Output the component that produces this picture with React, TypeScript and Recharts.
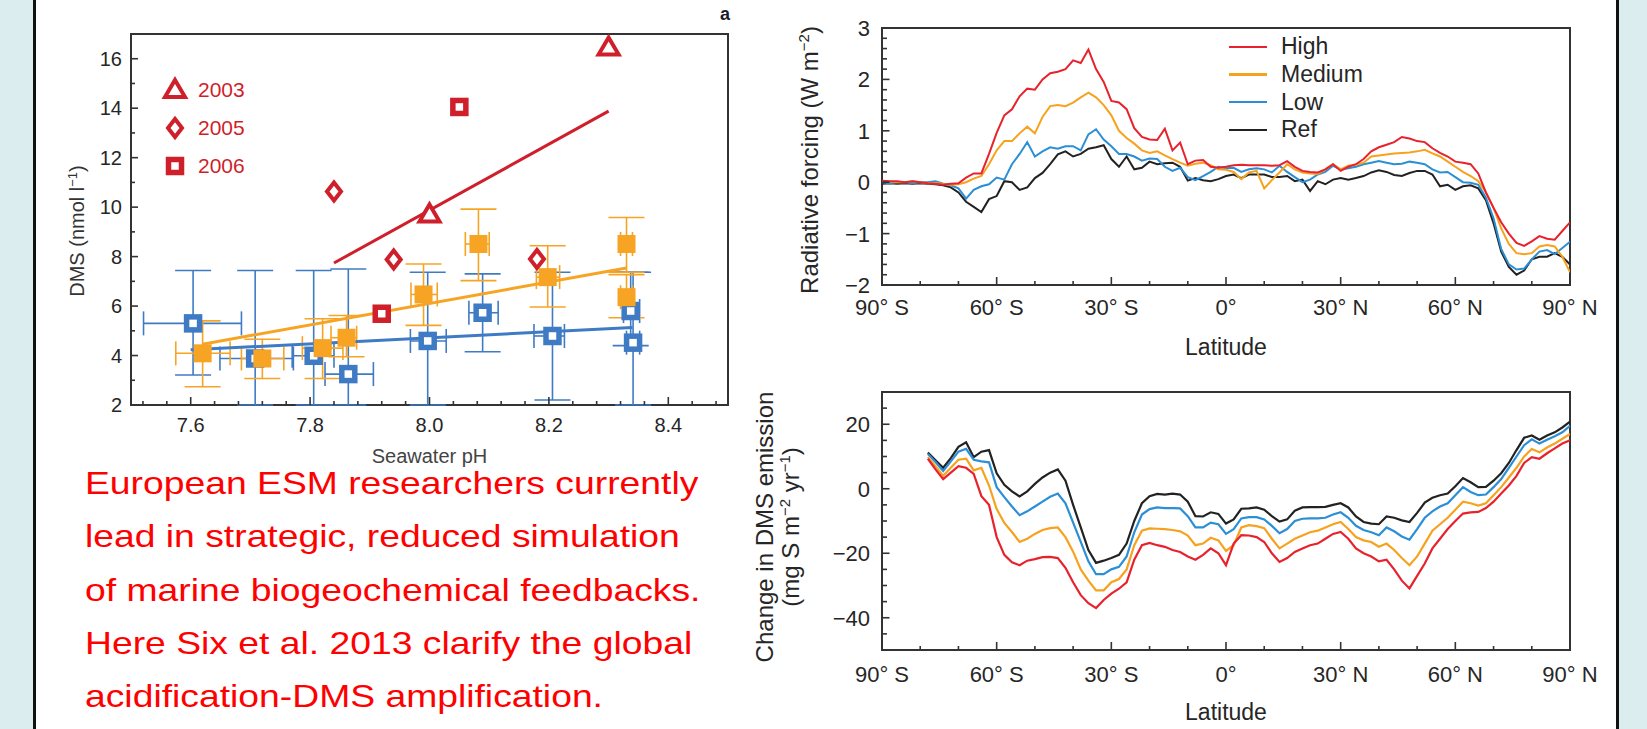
import {
  ErrorBar,
  Legend,
  Line,
  LineChart,
  ReferenceArea,
  Scatter,
  ScatterChart,
  XAxis,
  YAxis,
} from "recharts";

const FONT = '"Liberation Sans", Arial, Helvetica, sans-serif';
const TEXT = "#262626";
const AXIS = "#333333";
const RED = "#cf1f2b";
const ORANGE = "#f7a424";
const BLUE = "#3f7bc4";
const STRIP = "#dcedf0";

// ---- panel a: DMS vs seawater pH ----
const PH_TICKS = [
  7.52, 7.56, 7.6, 7.64, 7.68, 7.72, 7.76, 7.8, 7.84, 7.88, 7.92, 7.96, 8.0, 8.04, 8.08, 8.12,
  8.16, 8.2, 8.24, 8.28, 8.32, 8.36, 8.4, 8.44, 8.48,
];
const PH_LABEL_AT = [7.6, 7.8, 8.0, 8.2, 8.4];
const PH_LABELS = ["7.6", "7.8", "8.0", "8.2", "8.4"];
const DMS_TICKS = [2, 3, 4, 5, 6, 7, 8, 9, 10, 11, 12, 13, 14, 15, 16];
const DMS_LABEL_AT = [2, 4, 6, 8, 10, 12, 14, 16];
const DMS_LABELS = ["2", "4", "6", "8", "10", "12", "14", "16"];

const BLUE_PH = [7.604, 7.708, 7.806, 7.864, 7.997, 8.089, 8.206, 8.337, 8.341];
const BLUE_DMS = [5.3, 3.88, 3.99, 3.25, 4.59, 5.73, 4.79, 5.8, 4.52];
const BLUE_DMS_LO = [3.21, 2.0, 2.0, 2.0, 2.0, 4.15, 2.2, 4.4, 2.0];
const BLUE_DMS_HI = [7.44, 7.44, 7.44, 7.5, 7.37, 7.3, 7.37, 7.37, 7.37];
const BLUE_PH_LO = [7.521, 7.649, 7.77, 7.825, 7.968, 8.066, 8.175, 8.325, 8.33];
const BLUE_PH_HI = [7.685, 7.772, 7.84, 7.906, 8.028, 8.115, 8.226, 8.352, 8.352];

const ORANGE_PH = [7.62, 7.72, 7.821, 7.861, 7.99, 8.082, 8.198, 8.33, 8.33];
const ORANGE_DMS = [4.09, 3.88, 4.3, 4.72, 6.47, 8.51, 7.17, 8.51, 6.36];
const ORANGE_DMS_LO = [2.74, 3.07, 3.07, 3.95, 5.22, 7.03, 5.96, 7.37, 5.53];
const ORANGE_DMS_HI = [5.4, 4.66, 5.49, 5.62, 7.7, 9.92, 8.44, 9.58, 7.27];
const ORANGE_PH_LO = [7.575, 7.685, 7.787, 7.835, 7.969, 8.06, 8.179, 8.32, 8.32];
const ORANGE_PH_HI = [7.666, 7.756, 7.855, 7.878, 8.013, 8.1, 8.218, 8.34, 8.34];

const Y2003_PH = [8.3, 8.0];
const Y2003_DMS = [16.45, 9.7];
const Y2005_PH = [7.84, 7.94, 8.18];
const Y2005_DMS = [10.63, 7.88, 7.9];
const Y2006_PH = [8.05, 7.92];
const Y2006_DMS = [14.05, 5.69];

const RED_FIT_PH = [7.84, 8.3];
const RED_FIT_DMS = [7.74, 13.88];
const ORANGE_FIT_PH = [7.62, 8.33];
const ORANGE_FIT_DMS = [4.46, 7.54];
const BLUE_FIT_PH = [7.6, 8.34];
const BLUE_FIT_DMS = [4.23, 5.13];

const YEAR_NAMES = ["2003", "2005", "2006"];

// ---- latitude panels ----
const LAT_TICKS = [-90, -80, -70, -60, -50, -40, -30, -20, -10, 0, 10, 20, 30, 40, 50, 60, 70, 80, 90];
const LAT_LABEL_AT = [-90, -60, -30, 0, 30, 60, 90];
const LAT_LABELS = ["90° S", "60° S", "30° S", "0°", "30° N", "60° N", "90° N"];

const RF_TICKS = [
  -2, -1.8, -1.6, -1.4, -1.2, -1, -0.8, -0.6, -0.4, -0.2, 0, 0.2, 0.4, 0.6, 0.8, 1, 1.2, 1.4, 1.6,
  1.8, 2, 2.2, 2.4, 2.6, 2.8, 3,
];
const RF_LABEL_AT = [-2, -1, 0, 1, 2, 3];
const RF_LABELS = ["\u22122", "\u22121", "0", "1", "2", "3"];

const EM_TICKS = [-50, -45, -40, -35, -30, -25, -20, -15, -10, -5, 0, 5, 10, 15, 20, 25, 30];
const EM_LABEL_AT = [-40, -20, 0, 20];
const EM_LABELS = ["\u221240", "\u221220", "0", "20"];

const SCENARIOS = ["High", "Medium", "Low", "Ref"];
const SCENARIO_COLORS = ["#e8222c", "#f7a21e", "#2b8fd6", "#222222"];

const LAT_RF = [
  -90, -88, -86, -84, -82, -80, -78, -76, -74, -72, -70, -68, -66, -64, -62, -60, -58, -56, -54, -52,
  -50, -48, -46, -44, -42, -40, -38, -36, -34, -32, -30, -28, -26, -24, -22, -20, -18, -16, -14, -12,
  -10, -8, -6, -4, -2, 0, 2, 4, 6, 8, 10, 12, 14, 16, 18, 20, 22, 24, 26, 28, 30, 32, 34, 36, 38, 40,
  42, 44, 46, 48, 50, 52, 54, 56, 58, 60, 62, 64, 66, 68, 70, 72, 74, 76, 78, 80, 82, 84, 86, 88, 90,
];
const RF_HIGH = [
  0.03, 0.02, 0.02, 0.0, 0.02, 0.0, -0.02, -0.03, -0.05, -0.03,
  -0.02, 0.09, 0.17, 0.17, 0.55, 0.96, 1.3, 1.42, 1.67, 1.82,
  1.8, 2.0, 2.12, 2.15, 2.2, 2.37, 2.32, 2.58, 2.2, 1.95,
  1.58, 1.55, 1.42, 1.05, 0.88, 0.83, 0.82, 1.04, 0.62, 0.77,
  0.35, 0.42, 0.43, 0.3, 0.28, 0.3, 0.33, 0.34, 0.33, 0.33,
  0.33, 0.32, 0.33, 0.41, 0.3, 0.22, 0.2, 0.19, 0.25, 0.35,
  0.22, 0.3, 0.35, 0.45, 0.6, 0.68, 0.73, 0.78, 0.88, 0.85,
  0.8, 0.78, 0.66, 0.57, 0.5, 0.4, 0.38, 0.35, 0.17, -0.2,
  -0.5, -0.78, -1.0, -1.18, -1.24, -1.15, -1.05, -1.1, -1.12, -0.95,
  -0.78,
];
const RF_MED = [
  0.02, 0.01, 0.0, 0.0, 0.02, 0.0, -0.02, -0.02, -0.03, -0.05,
  -0.04, 0.0, 0.07, 0.12, 0.35, 0.62, 0.8, 0.8, 0.95, 1.08,
  0.95, 1.27, 1.48, 1.5, 1.48, 1.55, 1.65, 1.74, 1.65, 1.5,
  1.3, 1.0, 0.86, 0.75, 0.62, 0.57, 0.6, 0.52, 0.45, 0.38,
  0.32, 0.36, 0.38, 0.33, 0.25, 0.24, 0.2, 0.06, 0.19, 0.22,
  -0.12, 0.04, 0.19, 0.35, 0.25, 0.19, 0.17, 0.16, 0.25, 0.35,
  0.25, 0.32, 0.34, 0.38, 0.5, 0.52, 0.54, 0.56, 0.57, 0.58,
  0.6, 0.63, 0.56, 0.5, 0.4, 0.3, 0.2, 0.12, 0.02, -0.2,
  -0.5, -0.9, -1.2, -1.38, -1.4, -1.38, -1.25, -1.22, -1.25, -1.45,
  -1.75,
];
const RF_LOW = [
  0.0, -0.02, 0.0, 0.0, -0.02, 0.0, 0.0, 0.02, -0.03, -0.06,
  -0.12, -0.32, -0.15, -0.08, -0.04, 0.09, 0.05, 0.35, 0.55, 0.78,
  0.5, 0.6, 0.68, 0.65, 0.7, 0.7, 0.62, 0.93, 1.03, 0.83,
  0.7, 0.55, 0.55, 0.5, 0.42, 0.46, 0.45, 0.3, 0.22, 0.28,
  0.1, 0.04, 0.12, 0.2, 0.3, 0.27, 0.28, 0.2, 0.25, 0.27,
  0.25, 0.19, 0.32, 0.2, 0.1, 0.0, 0.05, 0.15, 0.2, 0.32,
  0.25, 0.27, 0.3, 0.35, 0.38, 0.41, 0.38, 0.35, 0.36, 0.4,
  0.38, 0.35, 0.25, 0.19, 0.2, 0.1, 0.0, -0.01, -0.05, -0.3,
  -0.7, -1.3, -1.6, -1.7, -1.68, -1.5, -1.35, -1.32, -1.4, -1.28,
  -1.16,
];
const RF_REF = [
  -0.03, -0.02, -0.03, -0.02, -0.03, -0.02, -0.03, -0.04, -0.06, -0.1,
  -0.2, -0.38, -0.48, -0.58, -0.33, -0.27, 0.02, 0.0, -0.15, -0.1,
  0.08, 0.18, 0.35, 0.54, 0.6, 0.5, 0.55, 0.65, 0.68, 0.72,
  0.45, 0.3, 0.5, 0.25, 0.28, 0.4, 0.35, 0.37, 0.38, 0.3,
  0.03, 0.08, 0.04, 0.02, 0.06, 0.12, 0.15, 0.08, 0.15, 0.15,
  0.15, 0.1, 0.1, 0.12, 0.02, 0.05, -0.17, 0.02, -0.04, 0.05,
  0.08, 0.05, 0.08, 0.12, 0.19, 0.23, 0.2, 0.14, 0.12, 0.18,
  0.22, 0.22, 0.15, -0.08, -0.05, -0.15, -0.08, -0.06, -0.12, -0.35,
  -0.8, -1.35, -1.65, -1.8, -1.72, -1.5, -1.45, -1.45, -1.38, -1.45,
  -1.6,
];

const LAT_EM = [
  -78, -76, -74, -72, -70, -68, -66, -64, -62, -60, -58, -56, -54, -52, -50, -48, -46, -44, -42, -40,
  -38, -36, -34, -32, -30, -28, -26, -24, -22, -20, -18, -16, -14, -12, -10, -8, -6, -4, -2, 0,
  2, 4, 6, 8, 10, 12, 14, 16, 18, 20, 22, 24, 26, 28, 30, 32, 34, 36, 38, 40,
  42, 44, 46, 48, 50, 52, 54, 56, 58, 60, 62, 64, 66, 68, 70, 72, 74, 76, 78, 80, 82, 84, 86, 88, 90,
];
const EM_HIGH = [
  9.3, 6.0, 3.0, 5.0, 7.0, 6.5, 4.6, -2.3, -5.0, -15.0,
  -20.5, -22.8, -23.7, -22.3, -21.8, -21.2, -21.1, -21.5, -24.5, -29.0,
  -33.0, -35.5, -37.0, -34.5, -32.5, -31.0, -29.0, -22.0, -17.5, -16.8,
  -17.5, -18.0, -19.0, -19.6, -21.0, -22.0, -20.5, -18.5, -20.0, -23.7,
  -17.0, -14.4, -14.5, -15.0, -16.5, -20.0, -22.7, -21.5, -19.6, -18.5,
  -17.5, -17.0, -15.5, -14.0, -13.4, -15.5, -18.5, -20.0, -21.0, -22.5,
  -22.0, -25.0, -28.5, -30.9, -27.0, -23.2, -18.5, -15.5, -12.5, -10.0,
  -7.7, -7.3, -7.2, -6.0, -4.0, -1.5, 1.0, 4.0, 8.0, 9.8,
  9.3, 11.0, 12.5, 14.0, 15.0,
];
const EM_MED = [
  9.8, 7.0, 4.0, 6.5, 9.0, 9.3, 5.7, 6.5, 1.0, -6.3,
  -10.6, -13.4, -16.5, -15.5, -14.0, -12.8, -12.2, -12.0, -15.0, -19.5,
  -25.0, -28.5, -31.5, -31.5, -29.0, -28.0, -25.0, -17.5, -13.0, -12.3,
  -12.4, -12.5, -12.8, -13.2, -14.5, -17.5, -17.0, -15.2, -16.0, -19.3,
  -17.5, -12.0, -11.3, -11.6, -12.2, -15.5, -18.5, -17.0, -15.5, -14.5,
  -13.5, -13.0, -12.0, -11.0, -10.3, -12.5, -15.0, -16.0, -16.5, -18.0,
  -17.0, -19.0, -21.5, -23.7, -21.0, -17.0, -13.0, -11.0, -9.0, -6.5,
  -4.0, -4.5, -5.2, -4.5, -2.0, 0.5, 3.5, 6.5, 10.0, 12.3,
  11.3, 12.8, 14.0, 15.5, 17.0,
];
const EM_LOW = [
  10.8, 8.3, 5.5, 8.5, 11.5, 12.4, 9.0, 8.5, 8.2, 0.5,
  -2.6, -5.5, -8.2, -7.0, -5.5, -4.0, -2.5, -1.5, -4.5, -10.5,
  -16.5, -22.5, -26.5, -26.5, -25.0, -24.2, -21.0, -13.5, -8.0, -6.3,
  -5.8, -6.0, -6.0, -6.1, -8.5, -12.0, -12.0, -10.5, -11.0, -14.0,
  -12.5, -9.2, -8.8, -8.8, -9.5, -11.5, -13.8, -12.5, -10.0, -9.3,
  -9.2, -9.2, -9.0, -8.0, -7.3, -9.0, -11.5, -12.8, -13.5, -14.4,
  -12.0, -13.2, -14.8, -15.8, -12.5, -9.0, -7.0, -5.5, -4.5, -2.0,
  0.5, -1.0, -2.0, -1.8, 0.5, 3.0, 6.5, 10.0, 13.5, 15.3,
  14.0, 15.2, 16.3, 17.5, 19.5,
];
const EM_REF = [
  11.2, 8.8, 6.5, 9.5, 13.0, 14.4, 9.8, 11.5, 12.0, 4.8,
  1.2, -0.8, -2.4, -0.8, 1.5, 3.5, 5.0, 6.0, 2.5, -5.0,
  -12.0, -19.0, -23.0, -22.3, -21.5, -20.5, -17.0, -10.0, -4.5, -2.3,
  -1.6, -1.8, -1.5, -1.8, -4.0, -8.5, -8.6, -7.3, -7.8, -10.8,
  -9.5, -6.2, -6.1, -5.8, -6.5, -8.5, -10.2, -9.5, -6.8, -5.8,
  -5.7, -5.7, -5.6, -5.0, -4.5, -5.8, -8.6, -10.3, -10.8, -11.0,
  -8.6, -9.0, -9.8, -10.3, -7.5, -4.3, -2.8, -2.0, -1.5, 0.8,
  3.3, 2.0, 0.5, 0.6, 2.5, 4.8, 8.0, 12.0, 15.8, 16.5,
  15.2, 16.5, 17.5, 19.0, 20.8,
];

const same = (a: number, b: number) => Math.abs(a - b) < 1e-6;
const labelFor = (v: number, at: number[], texts: string[]) => {
  const i = at.findIndex((t) => same(t, v));
  return i >= 0 ? texts[i] : null;
};

function bottomTick(at: number[], texts: string[], majorLen: number, minorLen: number, dy: number, size: number) {
  return (p: any) => {
    const v = p.payload.value;
    const label = labelFor(v, at, texts);
    const len = label !== null ? majorLen : minorLen;
    return (
      <g>
        <line x1={p.x} x2={p.x} y1={p.y} y2={p.y - len} stroke={AXIS} strokeWidth={1.6} />
        {label !== null && (
          <text x={p.x} y={p.y + dy} textAnchor="middle" fontSize={size} fill={TEXT}>
            {label}
          </text>
        )}
      </g>
    );
  };
}

function leftTick(at: number[], texts: string[], majorLen: number, minorLen: number, gap: number, size: number) {
  return (p: any) => {
    const v = p.payload.value;
    const label = labelFor(v, at, texts);
    const len = label !== null ? majorLen : minorLen;
    return (
      <g>
        <line x1={p.x} x2={p.x + len} y1={p.y} y2={p.y} stroke={AXIS} strokeWidth={1.6} />
        {label !== null && (
          <text x={p.x - gap} y={p.y + size * 0.36} textAnchor="end" fontSize={size} fill={TEXT}>
            {label}
          </text>
        )}
      </g>
    );
  };
}

// markers
const triangle = (cx: number, cy: number) => (
  <polygon
    points={`${cx},${cy - 10} ${cx + 10},${cy + 7} ${cx - 10},${cy + 7}`}
    fill="#fff"
    stroke={RED}
    strokeWidth={4}
  />
);
const diamond = (cx: number, cy: number) => (
  <polygon
    points={`${cx},${cy - 9} ${cx + 7},${cy} ${cx},${cy + 9} ${cx - 7},${cy}`}
    fill="#fff"
    stroke={RED}
    strokeWidth={4}
  />
);
const openSquare = (cx: number, cy: number, color: string) => (
  <rect x={cx - 6.5} y={cy - 6.5} width={13} height={13} fill="#fff" stroke={color} strokeWidth={5.5} />
);
const YEAR_MARKS = [
  (cx: number, cy: number) => triangle(cx, cy),
  (cx: number, cy: number) => diamond(cx, cy),
  (cx: number, cy: number) => openSquare(cx, cy, RED),
];
const noMark = () => <g />;

function YearKey() {
  return (
    <div>
      {YEAR_NAMES.map((name, i) => (
        <div key={name} style={{ display: "flex", alignItems: "center", height: 38 }}>
          <svg width={30} height={30}>
            {YEAR_MARKS[i](15, 15)}
          </svg>
          <span style={{ marginLeft: 8, fontSize: 21, color: RED, fontFamily: FONT }}>{name}</span>
        </div>
      ))}
    </div>
  );
}

function ScenarioKey() {
  return (
    <div>
      {SCENARIOS.map((name, i) => (
        <div key={name} style={{ display: "flex", alignItems: "center", height: 27.7 }}>
          <span style={{ display: "inline-block", width: 38, height: 2.5, background: SCENARIO_COLORS[i] }} />
          <span style={{ marginLeft: 14, fontSize: 23, color: TEXT, fontFamily: FONT }}>{name}</span>
        </div>
      ))}
    </div>
  );
}

export default function App() {
  const blueRows = BLUE_PH.map((ph, i) => ({
    ph,
    dms: BLUE_DMS[i],
    yErr: [BLUE_DMS[i] - BLUE_DMS_LO[i], BLUE_DMS_HI[i] - BLUE_DMS[i]],
    xErr: [ph - BLUE_PH_LO[i], BLUE_PH_HI[i] - ph],
  }));
  const orangeRows = ORANGE_PH.map((ph, i) => ({
    ph,
    dms: ORANGE_DMS[i],
    yErr: [ORANGE_DMS[i] - ORANGE_DMS_LO[i], ORANGE_DMS_HI[i] - ORANGE_DMS[i]],
    xErr: [ph - ORANGE_PH_LO[i], ORANGE_PH_HI[i] - ph],
  }));
  const pts = (phs: number[], vals: number[]) => phs.map((ph, i) => ({ ph, dms: vals[i] }));

  const rfRows = LAT_RF.map((lat, i) => ({
    lat,
    High: RF_HIGH[i],
    Medium: RF_MED[i],
    Low: RF_LOW[i],
    Ref: RF_REF[i],
  }));
  const emRows = LAT_EM.map((lat, i) => ({
    lat,
    High: EM_HIGH[i],
    Medium: EM_MED[i],
    Low: EM_LOW[i],
    Ref: EM_REF[i],
  }));
  const drawOrder = [3, 2, 1, 0];

  return (
    <div
      style={{
        position: "absolute",
        left: 0,
        top: 0,
        width: 1647,
        height: 729,
        background: "#fff",
        overflow: "hidden",
        fontFamily: FONT,
      }}
    >
      <div style={{ position: "absolute", left: 0, top: 0, width: 33, height: 729, background: STRIP }} />
      <div style={{ position: "absolute", left: 33, top: 0, width: 3, height: 729, background: "#111" }} />

      {/* panel a */}
      <div style={{ position: "absolute", left: 0, top: 0 }}>
        <ScatterChart width={740} height={470} margin={{ top: 34, right: 12, bottom: 0, left: 0 }}>
          <XAxis
            type="number"
            dataKey="ph"
            domain={[7.5, 8.5]}
            allowDataOverflow
            ticks={PH_TICKS}
            interval={0}
            tickSize={0}
            tickMargin={0}
            tickLine={false}
            axisLine={false}
            height={65}
            tick={bottomTick(PH_LABEL_AT, PH_LABELS, 8, 4, 27, 20)}
            label={{ value: "Seawater pH", position: "insideBottom", offset: 7, fontSize: 20, fill: "#444" }}
          />
          <YAxis
            type="number"
            dataKey="dms"
            domain={[2, 17]}
            allowDataOverflow
            ticks={DMS_TICKS}
            interval={0}
            tickSize={0}
            tickMargin={0}
            tickLine={false}
            axisLine={false}
            width={131}
            tick={leftTick(DMS_LABEL_AT, DMS_LABELS, 7, 4, 9, 20)}
            label={{
              content: () => (
                <text
                  x={84}
                  y={231}
                  transform="rotate(-90 84 231)"
                  textAnchor="middle"
                  fontSize={20}
                  fill="#333"
                >
                  DMS (nmol l
                  <tspan dy={-7} fontSize={13}>
                    {"\u22121"}
                  </tspan>
                  <tspan dy={7}>)</tspan>
                </text>
              ),
            }}
          />
          <Legend
            layout="vertical"
            align="center"
            verticalAlign="middle"
            content={() => <YearKey />}
            wrapperStyle={{ left: 160, top: 71, width: "auto" }}
          />
          <Scatter data={pts(BLUE_FIT_PH, BLUE_FIT_DMS)} line={{ stroke: BLUE, strokeWidth: 3 }} shape={noMark} isAnimationActive={false} legendType="none" />
          <Scatter data={pts(ORANGE_FIT_PH, ORANGE_FIT_DMS)} line={{ stroke: ORANGE, strokeWidth: 3 }} shape={noMark} isAnimationActive={false} legendType="none" />
          <Scatter data={pts(RED_FIT_PH, RED_FIT_DMS)} line={{ stroke: RED, strokeWidth: 3 }} shape={noMark} isAnimationActive={false} legendType="none" />
          <Scatter data={blueRows} shape={(p: any) => openSquare(p.cx, p.cy, BLUE)} isAnimationActive={false}>
            <ErrorBar dataKey="yErr" direction="y" width={18} stroke={BLUE} strokeWidth={1.6} />
            <ErrorBar dataKey="xErr" direction="x" width={12} stroke={BLUE} strokeWidth={1.6} />
          </Scatter>
          <Scatter
            data={orangeRows}
            shape={(p: any) => <rect x={p.cx - 9} y={p.cy - 9} width={18} height={18} fill={ORANGE} />}
            isAnimationActive={false}
          >
            <ErrorBar dataKey="yErr" direction="y" width={18} stroke={ORANGE} strokeWidth={1.6} />
            <ErrorBar dataKey="xErr" direction="x" width={12} stroke={ORANGE} strokeWidth={1.6} />
          </Scatter>
          <Scatter data={pts(Y2003_PH, Y2003_DMS)} shape={(p: any) => triangle(p.cx, p.cy)} isAnimationActive={false} />
          <Scatter data={pts(Y2005_PH, Y2005_DMS)} shape={(p: any) => diamond(p.cx, p.cy)} isAnimationActive={false} />
          <Scatter data={pts(Y2006_PH, Y2006_DMS)} shape={(p: any) => openSquare(p.cx, p.cy, RED)} isAnimationActive={false} />
          <ReferenceArea x1={7.5} x2={8.5} y1={2} y2={17} fill="none" fillOpacity={0} stroke={AXIS} strokeWidth={2} />
        </ScatterChart>
      </div>
      <div
        style={{ position: "absolute", left: 720, top: 4, fontSize: 18, fontWeight: 700, color: "#1a1a2e" }}
      >
        a
      </div>

      <div
        style={{
          position: "absolute",
          left: 85,
          top: 457,
          fontSize: 32,
          lineHeight: "53.25px",
          color: "#ff0000",
          whiteSpace: "nowrap",
          transform: "scaleX(1.165)",
          transformOrigin: "left top",
        }}
      >
        European ESM researchers currently
        <br />
        lead in strategic, reduced simulation
        <br />
        of marine biogeochemical feedbacks.
        <br />
        Here Six et al. 2013 clarify the global
        <br />
        acidification-DMS amplification.
      </div>

      {/* radiative forcing */}
      <div style={{ position: "absolute", left: 740, top: 0 }}>
        <LineChart width={870} height={360} data={rfRows} margin={{ top: 28, right: 40, bottom: 0, left: 0 }}>
          <XAxis
            type="number"
            dataKey="lat"
            domain={[-90, 90]}
            allowDataOverflow
            ticks={LAT_TICKS}
            interval={0}
            tickSize={0}
            tickMargin={0}
            tickLine={false}
            axisLine={false}
            height={75}
            tick={bottomTick(LAT_LABEL_AT, LAT_LABELS, 8, 4, 30, 22)}
            label={{ value: "Latitude", position: "insideBottom", offset: 5, fontSize: 23, fill: TEXT }}
          />
          <YAxis
            type="number"
            domain={[-2, 3]}
            allowDataOverflow
            ticks={RF_TICKS}
            interval={0}
            tickSize={0}
            tickMargin={0}
            tickLine={false}
            axisLine={false}
            width={142}
            tick={leftTick(RF_LABEL_AT, RF_LABELS, 7.5, 5, 12, 22)}
            label={{
              content: () => (
                <text x={78} y={160} transform="rotate(-90 78 160)" textAnchor="middle" fontSize={24} fill={TEXT}>
                  Radiative forcing (W m
                  <tspan dy={-9} fontSize={15}>
                    {"\u22122"}
                  </tspan>
                  <tspan dy={9}>)</tspan>
                </text>
              ),
            }}
          />
          <Legend
            layout="vertical"
            align="center"
            verticalAlign="middle"
            content={() => <ScenarioKey />}
            wrapperStyle={{ left: 489, top: 33, width: "auto" }}
          />
          {drawOrder.map((i) => (
            <Line
              key={SCENARIOS[i]}
              type="linear"
              dataKey={SCENARIOS[i]}
              stroke={SCENARIO_COLORS[i]}
              strokeWidth={2}
              dot={false}
              isAnimationActive={false}
            />
          ))}
          <ReferenceArea x1={-90} x2={90} y1={-2} y2={3} fill="none" fillOpacity={0} stroke={AXIS} strokeWidth={2} />
        </LineChart>
      </div>

      {/* DMS emission change */}
      <div style={{ position: "absolute", left: 740, top: 360 }}>
        <LineChart width={870} height={369} data={emRows} margin={{ top: 32, right: 40, bottom: 0, left: 0 }}>
          <XAxis
            type="number"
            dataKey="lat"
            domain={[-90, 90]}
            allowDataOverflow
            ticks={LAT_TICKS}
            interval={0}
            tickSize={0}
            tickMargin={0}
            tickLine={false}
            axisLine={false}
            height={79}
            tick={bottomTick(LAT_LABEL_AT, LAT_LABELS, 8, 4, 32, 22)}
            label={{ value: "Latitude", position: "insideBottom", offset: 9, fontSize: 23, fill: TEXT }}
          />
          <YAxis
            type="number"
            domain={[-50, 30]}
            allowDataOverflow
            ticks={EM_TICKS}
            interval={0}
            tickSize={0}
            tickMargin={0}
            tickLine={false}
            axisLine={false}
            width={142}
            tick={leftTick(EM_LABEL_AT, EM_LABELS, 7.5, 5, 12, 22)}
            label={{
              content: () => (
                <g fill={TEXT} fontSize={24}>
                  <text x={33} y={167} transform="rotate(-90 33 167)" textAnchor="middle">
                    Change in DMS emission
                  </text>
                  <text x={59} y={167} transform="rotate(-90 59 167)" textAnchor="middle">
                    (mg S m
                    <tspan dy={-9} fontSize={15}>
                      {"\u22122"}
                    </tspan>
                    <tspan dy={9}> yr</tspan>
                    <tspan dy={-9} fontSize={15}>
                      {"\u22121"}
                    </tspan>
                    <tspan dy={9}>)</tspan>
                  </text>
                </g>
              ),
            }}
          />
          {drawOrder.map((i) => (
            <Line
              key={SCENARIOS[i]}
              type="linear"
              dataKey={SCENARIOS[i]}
              stroke={SCENARIO_COLORS[i]}
              strokeWidth={2.2}
              dot={false}
              isAnimationActive={false}
            />
          ))}
          <ReferenceArea x1={-90} x2={90} y1={-50} y2={30} fill="none" fillOpacity={0} stroke={AXIS} strokeWidth={2} />
        </LineChart>
      </div>

      <div style={{ position: "absolute", left: 1616, top: 0, width: 3, height: 729, background: "#111" }} />
      <div style={{ position: "absolute", left: 1619, top: 0, width: 28, height: 729, background: STRIP }} />
    </div>
  );
}
